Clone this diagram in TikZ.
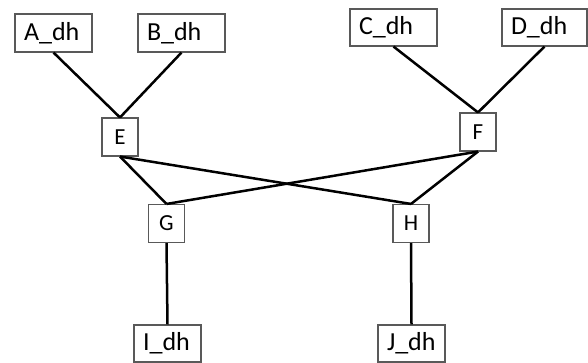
\documentclass[tikz,border=0pt]{standalone}
\usepackage{fontspec}
\setmainfont{Carlito}
\begin{document}
\begin{tikzpicture}[x=1pt,y=-1pt,
  box/.style={draw=black!65, line width=1.1pt, fill=white, inner ysep=0pt, minimum height=38pt},
  wide/.style={box, align=left, inner xsep=9pt, font=\fontsize{26}{30}\selectfont},
  small/.style={box, minimum width=36pt, inner xsep=0pt, font=\fontsize{23}{27}\selectfont},
  link/.style={line width=2.5pt, black}]
\useasboundingbox (0,0) rectangle (588,363);
\node[wide, text width=59pt] (A) at (53.5,33) {A\_dh};
\node[wide, text width=69pt] (B) at (181.5,33) {B\_dh};
\node[wide, text width=69pt, minimum height=37pt] (C) at (393.5,27.5) {C\_dh};
\node[wide, text width=67pt, minimum height=37pt] (D) at (544.5,27.5) {D\_dh};
\node[small] (E) at (120,137) {E};
\node[small] (F) at (478,132) {F};
\node[small] (G) at (166.5,223.5) {G};
\node[small] (H) at (411,223.5) {H};
\node[wide, text width=49pt, minimum height=37pt] (I) at (167.5,343.5) {I\_dh};
\node[wide, text width=49pt, minimum height=37pt] (J) at (411.5,343.5) {J\_dh};
\draw[link] (A.south) -- (E.north);
\draw[link] (B.south) -- (E.north);
\draw[link] (C.south) -- (F.north);
\draw[link] (D.south) -- (F.north);
\draw[link] (E.south) -- (G.north);
\draw[link] (E.south) -- (H.north);
\draw[link] (F.south) -- (G.north);
\draw[link] (F.south) -- (H.north);
\draw[link] (G.south) -- (I.north);
\draw[link] (H.south) -- (J.north);
\end{tikzpicture}
\end{document}
